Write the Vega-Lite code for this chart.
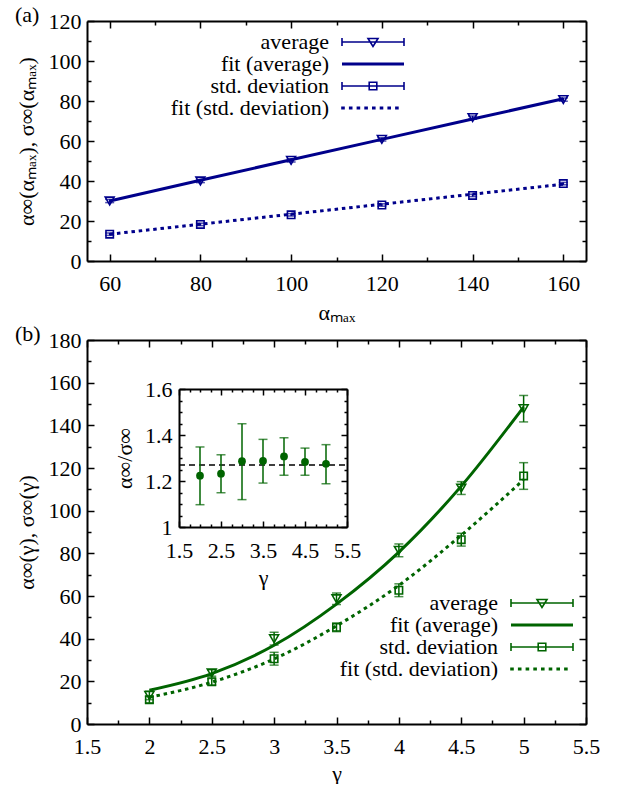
{
  "$schema": "https://vega.github.io/schema/vega-lite/v6.json",
  "padding": {"left": 15, "top": 4, "right": 5, "bottom": 0},
  "spacing": 0,
  "resolve": {"scale": {"shape": "independent"}, "legend": {"shape": "independent"}},
  "datasets": {
    "aPts": [
      {"amax": 60, "series": "average", "v": 30.0, "lo": 29.2, "hi": 30.8},
      {"amax": 80, "series": "average", "v": 40.0, "lo": 39.2, "hi": 40.8},
      {"amax": 100, "series": "average", "v": 50.3, "lo": 49.5, "hi": 51.1},
      {"amax": 120, "series": "average", "v": 60.8, "lo": 60.0, "hi": 61.6},
      {"amax": 140, "series": "average", "v": 71.7, "lo": 70.9, "hi": 72.5},
      {"amax": 160, "series": "average", "v": 80.7, "lo": 79.9, "hi": 81.5},
      {"amax": 60, "series": "std. deviation", "v": 13.4, "lo": 12.8, "hi": 14.0},
      {"amax": 80, "series": "std. deviation", "v": 18.3, "lo": 17.7, "hi": 18.9},
      {"amax": 100, "series": "std. deviation", "v": 23.1, "lo": 22.5, "hi": 23.7},
      {"amax": 120, "series": "std. deviation", "v": 28.0, "lo": 27.4, "hi": 28.6},
      {"amax": 140, "series": "std. deviation", "v": 32.8, "lo": 32.2, "hi": 33.4},
      {"amax": 160, "series": "std. deviation", "v": 38.7, "lo": 38.1, "hi": 39.3}
    ],
    "aFit": [
      {"amax": 60, "fitAvg": 30.0, "fitSd": 13.4},
      {"amax": 80, "fitAvg": 40.4, "fitSd": 18.4},
      {"amax": 100, "fitAvg": 50.6, "fitSd": 23.4},
      {"amax": 120, "fitAvg": 60.8, "fitSd": 28.4},
      {"amax": 140, "fitAvg": 71.0, "fitSd": 33.4},
      {"amax": 160, "fitAvg": 81.1, "fitSd": 38.4}
    ],
    "bPts": [
      {"g": 2, "series": "average", "v": 13.4, "lo": 11.4, "hi": 15.4},
      {"g": 2.5, "series": "average", "v": 23.9, "lo": 22.4, "hi": 25.4},
      {"g": 3, "series": "average", "v": 40.0, "lo": 37.0, "hi": 43.0},
      {"g": 3.5, "series": "average", "v": 58.7, "lo": 56.0, "hi": 61.4},
      {"g": 4, "series": "average", "v": 81.4, "lo": 78.4, "hi": 84.4},
      {"g": 4.5, "series": "average", "v": 110.6, "lo": 107.6, "hi": 113.6},
      {"g": 5, "series": "average", "v": 147.8, "lo": 141.6, "hi": 154.0},
      {"g": 2, "series": "std. deviation", "v": 11.4, "lo": 9.9, "hi": 12.9},
      {"g": 2.5, "series": "std. deviation", "v": 19.8, "lo": 18.3, "hi": 21.3},
      {"g": 3, "series": "std. deviation", "v": 30.6, "lo": 27.6, "hi": 33.6},
      {"g": 3.5, "series": "std. deviation", "v": 45.3, "lo": 43.3, "hi": 47.3},
      {"g": 4, "series": "std. deviation", "v": 62.7, "lo": 59.7, "hi": 65.7},
      {"g": 4.5, "series": "std. deviation", "v": 86.4, "lo": 83.4, "hi": 89.4},
      {"g": 5, "series": "std. deviation", "v": 116.3, "lo": 110.0, "hi": 122.5}
    ],
    "bFit": [
      {"g": 2, "fitAvg": 15.8, "fitSd": 12.5},
      {"g": 2.5, "fitAvg": 23.6, "fitSd": 19.6},
      {"g": 3, "fitAvg": 36.9, "fitSd": 30.5},
      {"g": 3.5, "fitAvg": 56.2, "fitSd": 46.0},
      {"g": 4, "fitAvg": 80.6, "fitSd": 65.0},
      {"g": 4.5, "fitAvg": 111.5, "fitSd": 88.5},
      {"g": 5, "fitAvg": 148.6, "fitSd": 114.5}
    ],
    "ratio": [
      {"g": 2, "r": 1.223, "lo": 1.097, "hi": 1.348},
      {"g": 2.5, "r": 1.232, "lo": 1.149, "hi": 1.314},
      {"g": 3, "r": 1.286, "lo": 1.119, "hi": 1.449},
      {"g": 3.5, "r": 1.287, "lo": 1.191, "hi": 1.381},
      {"g": 4, "r": 1.307, "lo": 1.225, "hi": 1.388},
      {"g": 4.5, "r": 1.283, "lo": 1.225, "hi": 1.343},
      {"g": 5, "r": 1.275, "lo": 1.188, "hi": 1.358}
    ],
    "ratioMean": [{"level": 1.27, "from": 1.5, "to": 5.5}],
    "keys": [
      {"key": "average"},
      {"key": "fit (average)"},
      {"key": "std. deviation"},
      {"key": "fit (std. deviation)"}
    ]
  },
  "vconcat": [
    {
      "title": {"text": "(a)", "anchor": "start", "frame": "bounds", "offset": -17},
      "width": 499,
      "height": 240,
      "layer": [
        {
          "data": {"name": "aFit"},
          "mark": {"type": "line", "color": "#00008b", "strokeWidth": 3},
          "encoding": {
            "x": {"field": "amax", "type": "quantitative", "scale": {"domain": [55, 165], "nice": false, "zero": false},
              "axis": {"orient": "bottom", "values": [60,70,80,90,100,110,120,130,140,150,160], "format": "~f",
                "labelExpr": "datum.value % 20 === 0 ? datum.label : ''",
                "tickSize": {"condition": {"test": "datum.value % 20 === 0", "value": -7}, "value": -4},
                "labelPadding": 19, "title": "αₘₐₓ", "titlePadding": 5}},
            "y": {"field": "fitAvg", "type": "quantitative", "scale": {"domain": [0, 120], "nice": false},
              "axis": {"orient": "left", "values": [0,10,20,30,40,50,60,70,80,90,100,110,120], "format": "~f",
                "labelExpr": "datum.value % 20 === 0 ? datum.label : ''",
                "tickSize": {"condition": {"test": "datum.value % 20 === 0", "value": -7}, "value": -4},
                "labelPadding": 13, "title": "α∞(αₘₐₓ), σ∞(αₘₐₓ)", "titlePadding": 10}}
          }
        },
        {
          "data": {"name": "aFit"},
          "mark": {"type": "line", "color": "#00008b", "strokeWidth": 3, "strokeDash": [3.5, 3.8]},
          "encoding": {
            "x": {"field": "amax", "type": "quantitative", "scale": {"domain": [55, 165], "nice": false, "zero": false},
              "axis": {"orient": "top", "values": [60,70,80,90,100,110,120,130,140,150,160], "labels": false, "title": null,
                "tickSize": {"condition": {"test": "datum.value % 20 === 0", "value": -7}, "value": -4}}},
            "y": {"field": "fitSd", "type": "quantitative", "scale": {"domain": [0, 120], "nice": false},
              "axis": {"orient": "right", "values": [0,10,20,30,40,50,60,70,80,90,100,110,120], "labels": false, "title": null,
                "tickSize": {"condition": {"test": "datum.value % 20 === 0", "value": -7}, "value": -4}}}
          }
        },
        {
          "data": {"name": "aPts"},
          "mark": {"type": "rule", "color": "#00008b", "strokeWidth": 1.5},
          "encoding": {
            "x": {"field": "amax", "type": "quantitative", "scale": {"domain": [55, 165], "nice": false, "zero": false}, "axis": null},
            "y": {"field": "lo", "type": "quantitative", "scale": {"domain": [0, 120], "nice": false}, "axis": null},
            "y2": {"field": "hi"}
          }
        },
        {
          "data": {"name": "aPts"},
          "mark": {"type": "tick", "orient": "horizontal", "size": 9, "thickness": 1.5, "color": "#00008b"},
          "encoding": {
            "x": {"field": "amax", "type": "quantitative", "scale": {"domain": [55, 165], "nice": false, "zero": false}, "axis": null},
            "y": {"field": "lo", "type": "quantitative", "scale": {"domain": [0, 120], "nice": false}, "axis": null}
          }
        },
        {
          "data": {"name": "aPts"},
          "mark": {"type": "tick", "orient": "horizontal", "size": 9, "thickness": 1.5, "color": "#00008b"},
          "encoding": {
            "x": {"field": "amax", "type": "quantitative", "scale": {"domain": [55, 165], "nice": false, "zero": false}, "axis": null},
            "y": {"field": "hi", "type": "quantitative", "scale": {"domain": [0, 120], "nice": false}, "axis": null}
          }
        },
        {
          "data": {"name": "aPts"},
          "transform": [{"filter": "datum.series === 'average'"}],
          "mark": {"type": "point", "shape": "triangle-down", "size": 80, "filled": false, "strokeWidth": 1.6, "color": "#00008b", "opacity": 1},
          "encoding": {
            "x": {"field": "amax", "type": "quantitative", "scale": {"domain": [55, 165], "nice": false, "zero": false}, "axis": null},
            "y": {"field": "v", "type": "quantitative", "scale": {"domain": [0, 120], "nice": false}, "axis": null}
          }
        },
        {
          "data": {"name": "aPts"},
          "transform": [{"filter": "datum.series === 'std. deviation'"}],
          "mark": {"type": "point", "shape": "square", "size": 55, "filled": false, "strokeWidth": 1.6, "color": "#00008b", "opacity": 1},
          "encoding": {
            "x": {"field": "amax", "type": "quantitative", "scale": {"domain": [55, 165], "nice": false, "zero": false}, "axis": null},
            "y": {"field": "v", "type": "quantitative", "scale": {"domain": [0, 120], "nice": false}, "axis": null}
          }
        },
        {
          "data": {"name": "keys"},
          "mark": {"type": "point", "opacity": 0, "filled": false},
          "encoding": {
            "shape": {"field": "key", "type": "nominal",
              "scale": {"domain": ["average", "fit (average)", "std. deviation", "fit (std. deviation)"],
                "range": [
                  "M-1,0H5.2M-1,-0.4V0.4M5.2,-0.4V0.4M1.6,-0.35L2.6,-0.35L2.1,0.45Z",
                  "M-1,-0.07H5.2M-1,0.07H5.2",
                  "M-1,0H5.2M-1,-0.4V0.4M5.2,-0.4V0.4M1.72,-0.38H2.48V0.38H1.72Z",
                  "M-1,-0.07h0.2v0.14h-0.2ZM-0.23,-0.07h0.2v0.14h-0.2ZM0.54,-0.07h0.2v0.14h-0.2ZM1.31,-0.07h0.2v0.14h-0.2ZM2.08,-0.07h0.2v0.14h-0.2ZM2.85,-0.07h0.2v0.14h-0.2ZM3.62,-0.07h0.2v0.14h-0.2ZM4.39,-0.07h0.2v0.14h-0.2Z"
                ]},
              "legend": {"orient": "none", "legendX": 254, "legendY": 10, "title": null,
                "labelFont": "Liberation Serif", "labelFontSize": 22, "labelColor": "black", "labelAlign": "right", "labelOffset": -34, "labelLimit": 0,
                "symbolSize": 400, "symbolStrokeColor": "#00008b", "symbolFillColor": "transparent", "symbolStrokeWidth": 1.6, "symbolOpacity": 1,
                "rowPadding": 0, "padding": 0}}
          }
        }
      ]
    },
    {
      "title": {"text": "(b)", "anchor": "start", "frame": "bounds", "offset": -17},
      "width": 499,
      "height": 384,
      "resolve": {"scale": {"x": "independent", "y": "independent"}, "axis": {"x": "independent", "y": "independent"}},
      "layer": [
        {
          "layer": [
            {
              "data": {"name": "bFit"},
              "mark": {"type": "line", "color": "#006400", "strokeWidth": 3, "interpolate": "monotone"},
              "encoding": {
                "x": {"field": "g", "type": "quantitative", "scale": {"domain": [1.5, 5.5], "nice": false, "zero": false},
                  "axis": {"orient": "bottom", "values": [1.5,1.75,2,2.25,2.5,2.75,3,3.25,3.5,3.75,4,4.25,4.5,4.75,5,5.25,5.5], "format": "~f",
                    "labelExpr": "abs(datum.value*2 - round(datum.value*2)) < 0.001 ? datum.label : ''",
                    "tickSize": {"condition": {"test": "abs(datum.value*2 - round(datum.value*2)) < 0.001", "value": -7}, "value": -4},
                    "labelPadding": 19, "title": "γ", "titlePadding": 3}},
                "y": {"field": "fitAvg", "type": "quantitative", "scale": {"domain": [0, 180], "nice": false},
                  "axis": {"orient": "left", "values": [0,10,20,30,40,50,60,70,80,90,100,110,120,130,140,150,160,170,180], "format": "~f",
                    "labelExpr": "datum.value % 20 === 0 ? datum.label : ''",
                    "tickSize": {"condition": {"test": "datum.value % 20 === 0", "value": -7}, "value": -4},
                    "labelPadding": 13, "title": "α∞(γ), σ∞(γ)", "titlePadding": 10}}
              }
            },
            {
              "data": {"name": "bFit"},
              "mark": {"type": "line", "color": "#006400", "strokeWidth": 3, "strokeDash": [3.5, 3.8], "interpolate": "monotone"},
              "encoding": {
                "x": {"field": "g", "type": "quantitative", "scale": {"domain": [1.5, 5.5], "nice": false, "zero": false},
                  "axis": {"orient": "top", "values": [1.5,1.75,2,2.25,2.5,2.75,3,3.25,3.5,3.75,4,4.25,4.5,4.75,5,5.25,5.5], "labels": false, "title": null,
                    "tickSize": {"condition": {"test": "abs(datum.value*2 - round(datum.value*2)) < 0.001", "value": -7}, "value": -4}}},
                "y": {"field": "fitSd", "type": "quantitative", "scale": {"domain": [0, 180], "nice": false},
                  "axis": {"orient": "right", "values": [0,10,20,30,40,50,60,70,80,90,100,110,120,130,140,150,160,170,180], "labels": false, "title": null,
                    "tickSize": {"condition": {"test": "datum.value % 20 === 0", "value": -7}, "value": -4}}}
              }
            },
            {
              "data": {"name": "bPts"},
              "mark": {"type": "rule", "color": "#006400", "strokeWidth": 1.5},
              "encoding": {
                "x": {"field": "g", "type": "quantitative", "scale": {"domain": [1.5, 5.5], "nice": false, "zero": false}, "axis": null},
                "y": {"field": "lo", "type": "quantitative", "scale": {"domain": [0, 180], "nice": false}, "axis": null},
                "y2": {"field": "hi"}
              }
            },
            {
              "data": {"name": "bPts"},
              "mark": {"type": "tick", "orient": "horizontal", "size": 9, "thickness": 1.5, "color": "#006400"},
              "encoding": {
                "x": {"field": "g", "type": "quantitative", "scale": {"domain": [1.5, 5.5], "nice": false, "zero": false}, "axis": null},
                "y": {"field": "lo", "type": "quantitative", "scale": {"domain": [0, 180], "nice": false}, "axis": null}
              }
            },
            {
              "data": {"name": "bPts"},
              "mark": {"type": "tick", "orient": "horizontal", "size": 9, "thickness": 1.5, "color": "#006400"},
              "encoding": {
                "x": {"field": "g", "type": "quantitative", "scale": {"domain": [1.5, 5.5], "nice": false, "zero": false}, "axis": null},
                "y": {"field": "hi", "type": "quantitative", "scale": {"domain": [0, 180], "nice": false}, "axis": null}
              }
            },
            {
              "data": {"name": "bPts"},
              "transform": [{"filter": "datum.series === 'average'"}],
              "mark": {"type": "point", "shape": "triangle-down", "size": 80, "filled": false, "strokeWidth": 1.6, "color": "#006400", "opacity": 1},
              "encoding": {
                "x": {"field": "g", "type": "quantitative", "scale": {"domain": [1.5, 5.5], "nice": false, "zero": false}, "axis": null},
                "y": {"field": "v", "type": "quantitative", "scale": {"domain": [0, 180], "nice": false}, "axis": null}
              }
            },
            {
              "data": {"name": "bPts"},
              "transform": [{"filter": "datum.series === 'std. deviation'"}],
              "mark": {"type": "point", "shape": "square", "size": 55, "filled": false, "strokeWidth": 1.6, "color": "#006400", "opacity": 1},
              "encoding": {
                "x": {"field": "g", "type": "quantitative", "scale": {"domain": [1.5, 5.5], "nice": false, "zero": false}, "axis": null},
                "y": {"field": "v", "type": "quantitative", "scale": {"domain": [0, 180], "nice": false}, "axis": null}
              }
            },
            {
              "data": {"name": "keys"},
              "mark": {"type": "point", "opacity": 0, "filled": false},
              "encoding": {
                "shape": {"field": "key", "type": "nominal",
                  "scale": {"domain": ["average", "fit (average)", "std. deviation", "fit (std. deviation)"],
                    "range": [
                      "M-1,0H5.2M-1,-0.4V0.4M5.2,-0.4V0.4M1.6,-0.35L2.6,-0.35L2.1,0.45Z",
                      "M-1,-0.07H5.2M-1,0.07H5.2",
                      "M-1,0H5.2M-1,-0.4V0.4M5.2,-0.4V0.4M1.72,-0.38H2.48V0.38H1.72Z",
                      "M-1,-0.07h0.2v0.14h-0.2ZM-0.23,-0.07h0.2v0.14h-0.2ZM0.54,-0.07h0.2v0.14h-0.2ZM1.31,-0.07h0.2v0.14h-0.2ZM2.08,-0.07h0.2v0.14h-0.2ZM2.85,-0.07h0.2v0.14h-0.2ZM3.62,-0.07h0.2v0.14h-0.2ZM4.39,-0.07h0.2v0.14h-0.2Z"
                    ]},
                  "legend": {"orient": "none", "legendX": 423, "legendY": 252, "title": null,
                    "labelFont": "Liberation Serif", "labelFontSize": 22, "labelColor": "black", "labelAlign": "right", "labelOffset": -34, "labelLimit": 0,
                    "symbolSize": 400, "symbolStrokeColor": "#006400", "symbolFillColor": "transparent", "symbolStrokeWidth": 1.6, "symbolOpacity": 1,
                    "rowPadding": 0, "padding": 0}}
              }
            }
          ]
        },
        {
          "layer": [
            {
              "data": {"name": "ratioMean"},
              "mark": {"type": "rule", "color": "black", "strokeWidth": 1.5, "strokeDash": [6, 4]},
              "encoding": {
                "x": {"field": "from", "type": "quantitative", "scale": {"domain": [1.5, 5.5], "nice": false, "zero": false, "range": [92, 260]},
                  "axis": {"orient": "bottom", "offset": -197, "values": [1.5,1.75,2,2.25,2.5,2.75,3,3.25,3.5,3.75,4,4.25,4.5,4.75,5,5.25,5.5], "format": "~f",
                    "labelExpr": "abs(datum.value - 0.5 - round(datum.value - 0.5)) < 0.001 ? datum.label : ''",
                    "tickSize": {"condition": {"test": "abs(datum.value - 0.5 - round(datum.value - 0.5)) < 0.001", "value": -6}, "value": -3},
                    "labelPadding": 19, "title": "γ", "titlePadding": 3}},
                "x2": {"field": "to"},
                "y": {"field": "level", "type": "quantitative", "scale": {"domain": [1, 1.6], "nice": false, "zero": false, "range": [187, 49]},
                  "axis": {"orient": "left", "offset": -92, "values": [1,1.05,1.1,1.15,1.2,1.25,1.3,1.35,1.4,1.45,1.5,1.55,1.6], "format": "~f",
                    "labelExpr": "abs(datum.value*5 - round(datum.value*5)) < 0.001 ? datum.label : ''",
                    "tickSize": {"condition": {"test": "abs(datum.value*5 - round(datum.value*5)) < 0.001", "value": -6}, "value": -3},
                    "labelPadding": 13, "title": "α∞/σ∞", "titlePadding": 8}}
              }
            },
            {
              "data": {"name": "ratio"},
              "mark": {"type": "rule", "color": "#006400", "strokeWidth": 1.5},
              "encoding": {
                "x": {"field": "g", "type": "quantitative", "scale": {"domain": [1.5, 5.5], "nice": false, "zero": false, "range": [92, 260]},
                  "axis": {"orient": "top", "offset": -49, "values": [1.5,1.75,2,2.25,2.5,2.75,3,3.25,3.5,3.75,4,4.25,4.5,4.75,5,5.25,5.5], "labels": false, "title": null,
                    "tickSize": {"condition": {"test": "abs(datum.value - 0.5 - round(datum.value - 0.5)) < 0.001", "value": -6}, "value": -3}}},
                "y": {"field": "lo", "type": "quantitative", "scale": {"domain": [1, 1.6], "nice": false, "zero": false, "range": [187, 49]},
                  "axis": {"orient": "right", "offset": -239, "values": [1,1.05,1.1,1.15,1.2,1.25,1.3,1.35,1.4,1.45,1.5,1.55,1.6], "labels": false, "title": null,
                    "tickSize": {"condition": {"test": "abs(datum.value*5 - round(datum.value*5)) < 0.001", "value": -6}, "value": -3}}},
                "y2": {"field": "hi"}
              }
            },
            {
              "data": {"name": "ratio"},
              "mark": {"type": "tick", "orient": "horizontal", "size": 9, "thickness": 1.5, "color": "#006400"},
              "encoding": {
                "x": {"field": "g", "type": "quantitative", "scale": {"domain": [1.5, 5.5], "nice": false, "zero": false, "range": [92, 260]}, "axis": null},
                "y": {"field": "lo", "type": "quantitative", "scale": {"domain": [1, 1.6], "nice": false, "zero": false, "range": [187, 49]}, "axis": null}
              }
            },
            {
              "data": {"name": "ratio"},
              "mark": {"type": "tick", "orient": "horizontal", "size": 9, "thickness": 1.5, "color": "#006400"},
              "encoding": {
                "x": {"field": "g", "type": "quantitative", "scale": {"domain": [1.5, 5.5], "nice": false, "zero": false, "range": [92, 260]}, "axis": null},
                "y": {"field": "hi", "type": "quantitative", "scale": {"domain": [1, 1.6], "nice": false, "zero": false, "range": [187, 49]}, "axis": null}
              }
            },
            {
              "data": {"name": "ratio"},
              "mark": {"type": "point", "shape": "circle", "size": 60, "filled": true, "color": "#006400", "opacity": 1},
              "encoding": {
                "x": {"field": "g", "type": "quantitative", "scale": {"domain": [1.5, 5.5], "nice": false, "zero": false, "range": [92, 260]}, "axis": null},
                "y": {"field": "r", "type": "quantitative", "scale": {"domain": [1, 1.6], "nice": false, "zero": false, "range": [187, 49]}, "axis": null}
              }
            }
          ]
        }
      ]
    }
  ],
  "config": {
    "font": "Liberation Serif",
    "view": {"stroke": null},
    "axis": {"labelFont": "Liberation Serif", "labelFontSize": 22, "labelColor": "black", "titleFont": "Liberation Serif", "titleFontSize": 22, "titleFontWeight": "normal", "titleColor": "black", "domainColor": "black", "domainWidth": 2, "tickColor": "black", "tickWidth": 1.5, "grid": false, "labelOverlap": false, "labelFlush": false},
    "legend": {"labelFont": "Liberation Serif"},
    "title": {"font": "Liberation Serif", "fontSize": 22, "fontWeight": "normal", "color": "black"}
  }
}
